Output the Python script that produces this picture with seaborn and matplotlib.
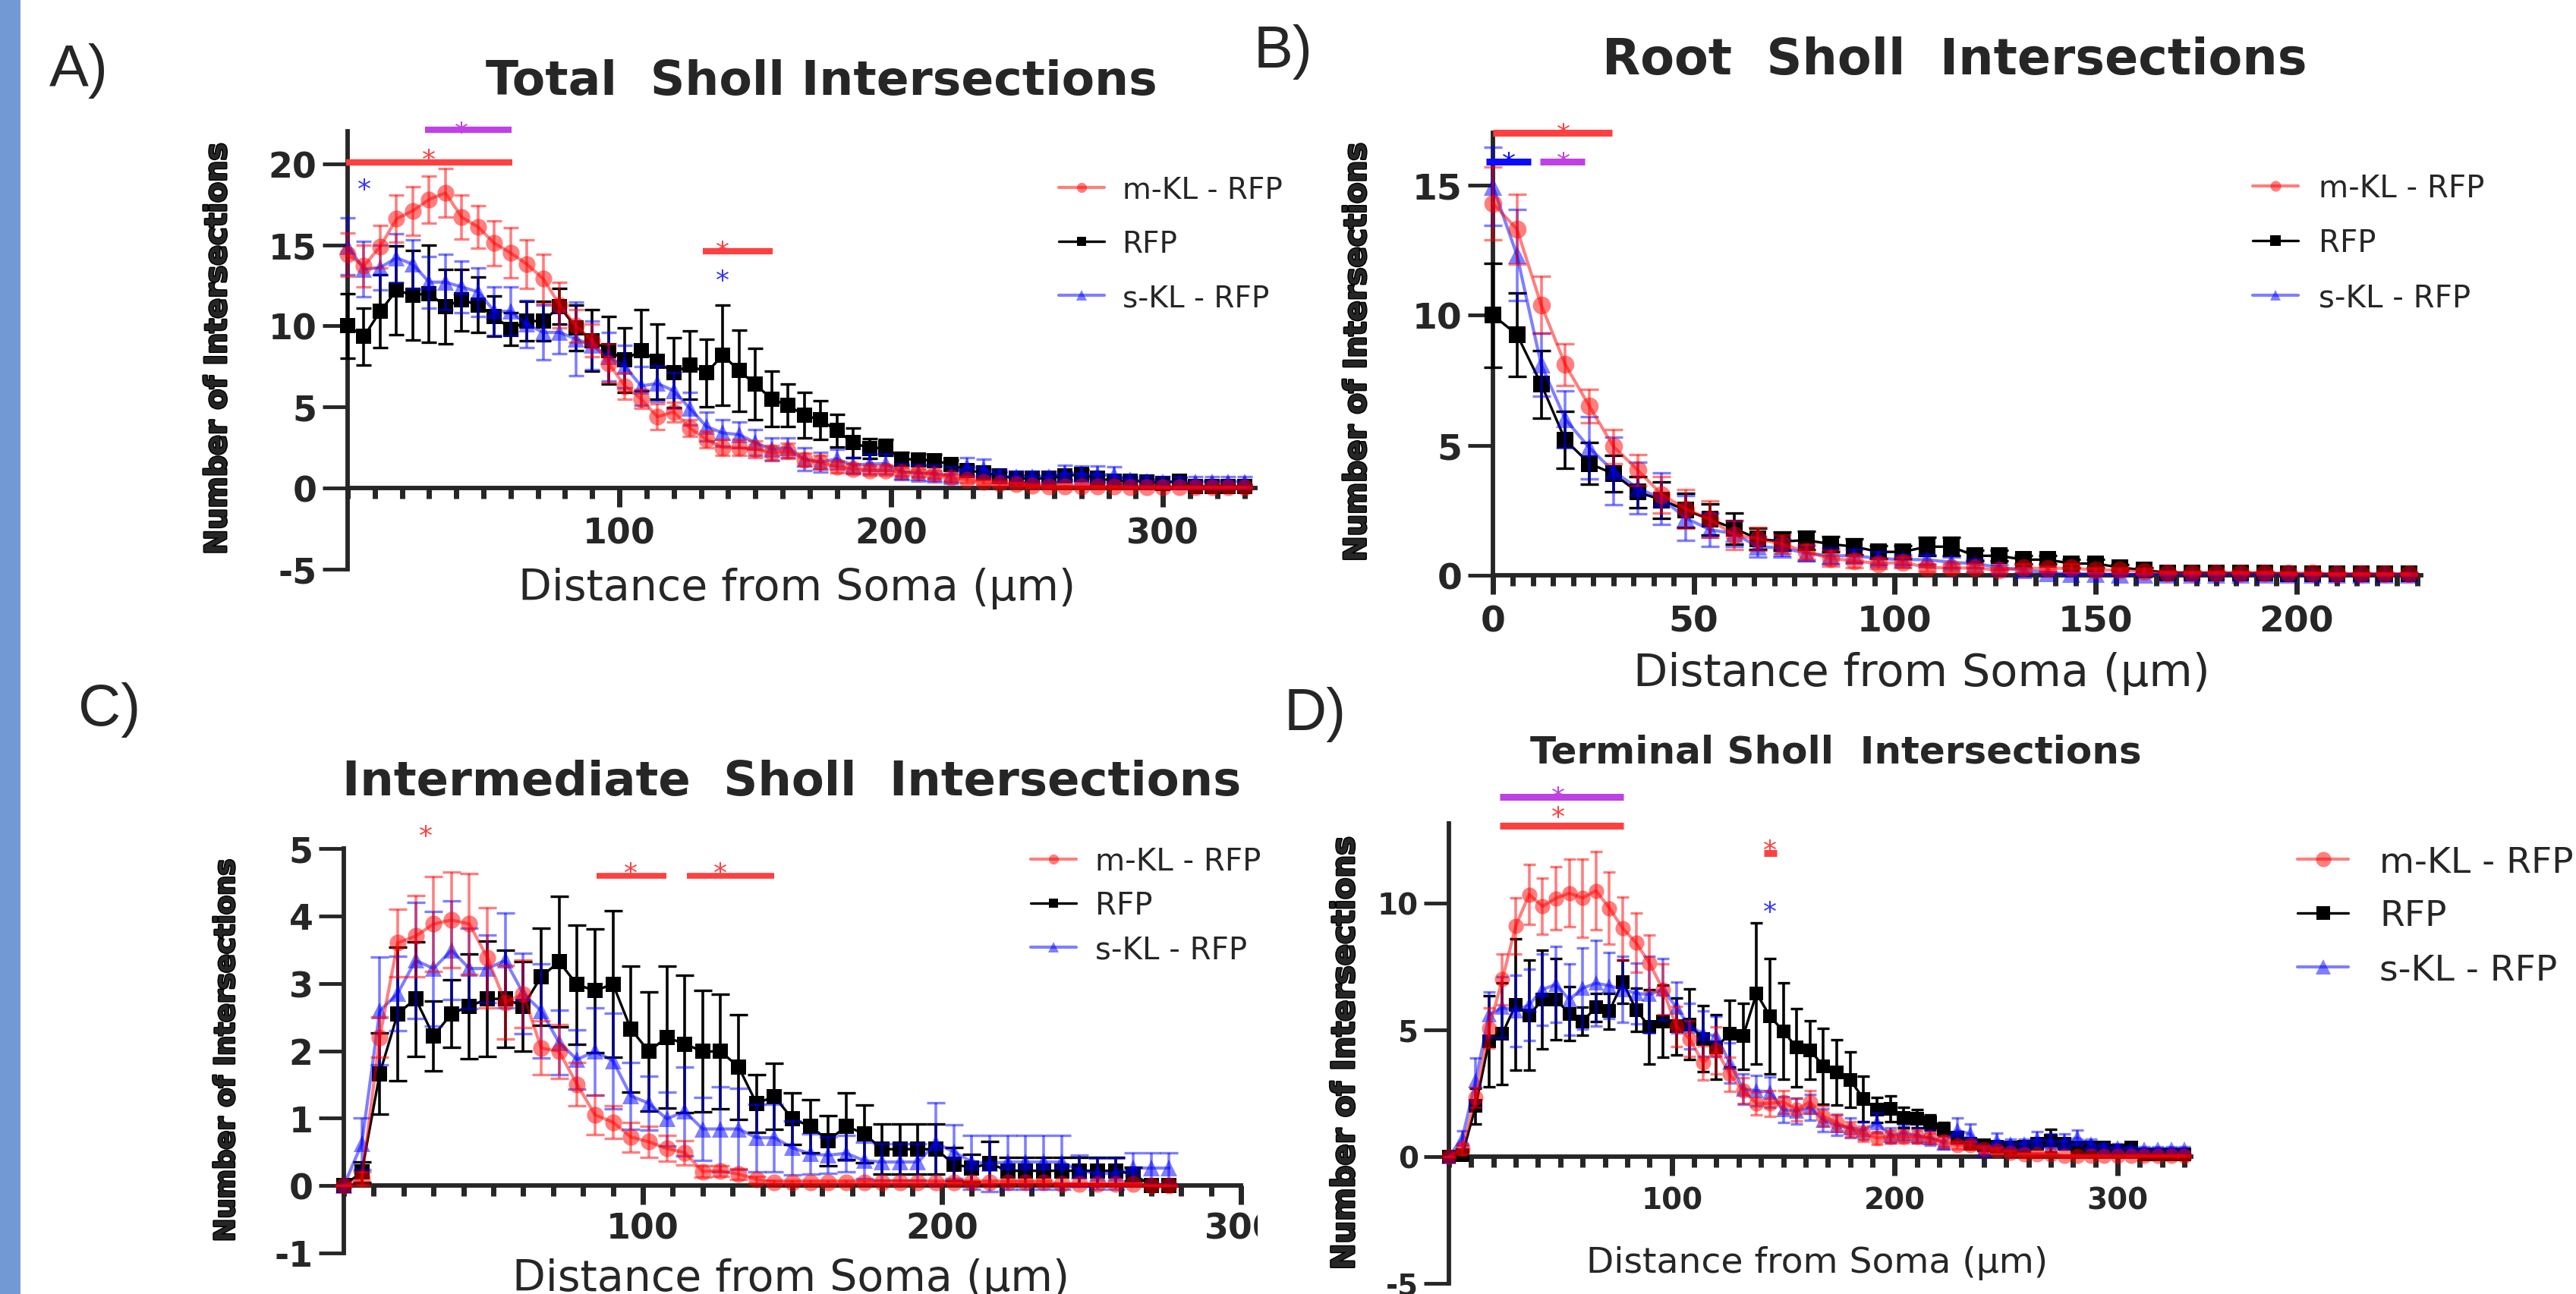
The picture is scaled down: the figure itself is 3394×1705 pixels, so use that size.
import matplotlib
matplotlib.use("Agg")
import matplotlib.pyplot as plt
import matplotlib.transforms as mtransforms
import matplotlib.patheffects as pe
from matplotlib.patches import Rectangle
from matplotlib.ticker import MultipleLocator
import numpy as np
import seaborn as sns

W, H = 3394, 1706

# Sholl radii (6 um steps)
dist_a = np.arange(0, 331, 6)
dist_b = np.arange(0, 229, 6)
dist_c = np.arange(0, 277, 6)
dist_d = np.arange(0, 331, 6)

LABELS = ["m-KL - RFP", "RFP", "s-KL - RFP"]

# ---- A) Total Sholl intersections (mean, SEM) ----
mkl_a = [14.4, 13.7, 14.9, 16.6, 17.1, 17.8, 18.2, 16.7, 16.1, 15.1,
         14.5, 13.8, 12.9, 11.3, 10.0, 9.1, 7.7, 6.3, 5.5, 4.4,
         4.7, 3.7, 3.0, 2.5, 2.5, 2.4, 2.2, 2.3, 1.75, 1.6,
         1.3, 1.2, 1.1, 1.1, 1.0, 0.95, 0.85, 0.65, 0.52, 0.37,
         0.3, 0.25, 0.15, 0.1, 0.1, 0.1, 0.08, 0.08, 0.06, 0.06,
         0.05, 0.05, 0.05, 0.05, 0.05, 0.05]
mkl_a_sem = [1.35, 1.3, 1.3, 1.45, 1.5, 1.45, 1.5, 1.35, 1.3, 1.4,
             1.55, 1.5, 1.5, 1.4, 1.0, 1.0, 1.2, 0.8, 0.6, 0.8,
             0.6, 0.5, 0.5, 0.5, 0.5, 0.5, 0.45, 0.45, 0.4, 0.4,
             0.35, 0.3, 0.3, 0.3, 0.25, 0.25, 0.25, 0.2, 0.2, 0.15,
             0.15, 0.1, 0.1, 0.1, 0.1, 0.1, 0.08, 0.08, 0.06, 0.06,
             0.05, 0.05, 0.05, 0.05, 0.05, 0.05]
rfp_a = [10.0, 9.35, 10.9, 12.2, 11.9, 12.0, 11.2, 11.6, 11.3, 10.6,
         9.8, 10.3, 10.3, 11.2, 9.9, 9.1, 8.5, 7.9, 8.5, 7.8,
         7.1, 7.6, 7.1, 8.2, 7.25, 6.4, 5.5, 5.1, 4.5, 4.2,
         3.55, 2.8, 2.45, 2.5, 1.8, 1.75, 1.7, 1.45, 1.1, 0.95,
         0.75, 0.6, 0.6, 0.6, 0.75, 0.85, 0.6, 0.45, 0.45, 0.4,
         0.3, 0.45, 0.1, 0.1, 0.1, 0.1]
rfp_a_sem = [2.0, 1.75, 2.25, 2.75, 2.75, 3.0, 2.3, 1.9, 1.7, 1.25,
             1.0, 1.2, 1.2, 1.1, 1.4, 1.9, 2.1, 2.0, 2.5, 2.3,
             2.15, 2.1, 2.1, 3.1, 2.5, 2.2, 1.7, 1.3, 1.4, 1.2,
             1.0, 0.9, 0.6, 0.5, 0.4, 0.35, 0.35, 0.3, 0.3, 0.25,
             0.25, 0.2, 0.2, 0.2, 0.25, 0.3, 0.2, 0.2, 0.2, 0.15,
             0.15, 0.2, 0.1, 0.1, 0.1, 0.1]
skl_a = [14.9, 13.5, 13.6, 14.2, 13.8, 12.7, 12.7, 12.4, 12.1, 10.9,
         10.9, 10.1, 9.6, 9.6, 9.2, 8.8, 8.1, 7.5, 6.3, 6.45,
         6.0, 4.9, 3.8, 3.4, 3.3, 2.8, 2.4, 2.5, 1.8, 1.6,
         1.8, 1.4, 1.5, 1.5, 1.0, 0.95, 0.9, 0.8, 1.3, 1.2,
         0.75, 0.7, 0.7, 0.7, 0.9, 0.85, 0.85, 0.8, 0.5, 0.45,
         0.4, 0.4, 0.4, 0.4, 0.4, 0.4]
skl_a_sem = [1.75, 1.7, 1.4, 1.5, 1.5, 1.6, 1.7, 1.6, 1.5, 1.5,
             1.5, 1.45, 1.7, 1.3, 2.25, 1.5, 1.5, 1.3, 1.2, 1.1,
             1.1, 1.0, 0.9, 0.8, 0.8, 0.8, 0.7, 0.6, 0.7, 0.6,
             0.6, 0.5, 0.6, 0.6, 0.5, 0.5, 0.5, 0.5, 0.6, 0.6,
             0.4, 0.35, 0.35, 0.35, 0.5, 0.5, 0.5, 0.5, 0.3, 0.3,
             0.3, 0.3, 0.3, 0.3, 0.3, 0.3]

# ---- B) Root Sholl intersections ----
mkl_b = [14.3, 13.3, 10.4, 8.1, 6.5, 4.95, 4.05, 3.1, 2.55, 2.15,
         1.55, 1.4, 1.2, 0.9, 0.65, 0.55, 0.45, 0.5, 0.3, 0.28,
         0.28, 0.2, 0.28, 0.25, 0.28, 0.2, 0.2, 0.15, 0.1, 0.1,
         0.1, 0.1, 0.1, 0.08, 0.08, 0.05, 0.05, 0.05, 0.05]
mkl_b_sem = [1.4, 1.35, 1.1, 0.8, 0.65, 0.65, 0.6, 0.7, 0.75, 0.7,
             0.55, 0.45, 0.35, 0.3, 0.3, 0.25, 0.2, 0.2, 0.15, 0.15,
             0.15, 0.1, 0.15, 0.1, 0.15, 0.1, 0.1, 0.1, 0.05, 0.05,
             0.05, 0.05, 0.05, 0.05, 0.05, 0.05, 0.05, 0.05, 0.05]
rfp_b = [10.0, 9.25, 7.35, 5.2, 4.3, 3.9, 3.2, 2.9, 2.5, 2.15,
         1.8, 1.4, 1.3, 1.35, 1.2, 1.1, 0.9, 0.9, 1.1, 1.1,
         0.75, 0.75, 0.6, 0.6, 0.45, 0.45, 0.3, 0.2, 0.1, 0.1,
         0.08, 0.08, 0.08, 0.05, 0.05, 0.05, 0.05, 0.05, 0.05]
rfp_b_sem = [2.0, 1.6, 1.3, 1.1, 0.8, 0.7, 0.6, 0.7, 0.65, 0.6,
             0.6, 0.4, 0.35, 0.35, 0.3, 0.3, 0.25, 0.25, 0.35, 0.35,
             0.2, 0.2, 0.15, 0.15, 0.15, 0.15, 0.1, 0.1, 0.05, 0.05,
             0.05, 0.05, 0.05, 0.05, 0.05, 0.05, 0.05, 0.05, 0.05]
skl_b = [14.95, 12.3, 8.1, 6.0, 4.9, 4.0, 3.35, 2.95, 2.2, 1.75,
         1.6, 1.1, 1.05, 0.85, 0.75, 0.75, 0.65, 0.6, 0.6, 0.5,
         0.45, 0.3, 0.2, 0.1, 0.05, 0.05, 0.03, 0.03, 0.03, 0.03,
         0.03, 0.03, 0.03, 0.03, 0.03, 0.03, 0.03, 0.03, 0.03]
skl_b_sem = [1.5, 1.75, 1.2, 1.1, 1.2, 1.3, 1.0, 1.0, 0.85, 0.65,
             0.5, 0.4, 0.35, 0.3, 0.3, 0.25, 0.25, 0.2, 0.2, 0.2,
             0.15, 0.1, 0.1, 0.05, 0.03, 0.03, 0.03, 0.03, 0.03, 0.03,
             0.03, 0.03, 0.03, 0.03, 0.03, 0.03, 0.03, 0.03, 0.03]

# ---- C) Intermediate Sholl intersections ----
mkl_c = [0.0, 0.1, 2.2, 3.6, 3.7, 3.88, 3.94, 3.88, 3.38, 2.72,
         2.84, 2.04, 1.99, 1.5, 1.05, 0.94, 0.72, 0.65, 0.55, 0.49,
         0.21, 0.22, 0.17, 0.09, 0.05, 0.05, 0.05, 0.05, 0.05, 0.05,
         0.05, 0.05, 0.05, 0.05, 0.05, 0.05, 0.05, 0.05, 0.05, 0.05,
         0.02, 0.02, 0.02, 0.02, 0.02, 0.0, 0.0]
mkl_c_sem = [0.0, 0.1, 0.3, 0.5, 0.6, 0.7, 0.71, 0.75, 0.74, 0.55,
             0.5, 0.4, 0.4, 0.32, 0.29, 0.24, 0.22, 0.23, 0.19, 0.18,
             0.08, 0.08, 0.08, 0.05, 0.03, 0.03, 0.03, 0.03, 0.03, 0.03,
             0.03, 0.03, 0.03, 0.03, 0.03, 0.03, 0.03, 0.03, 0.03, 0.03,
             0.02, 0.02, 0.02, 0.02, 0.02, 0.0, 0.0]
rfp_c = [0.0, 0.2, 1.66, 2.55, 2.77, 2.22, 2.55, 2.66, 2.77, 2.77,
         2.66, 3.1, 3.32, 2.98, 2.89, 2.99, 2.32, 1.99, 2.2, 2.1,
         1.99, 1.99, 1.76, 1.22, 1.32, 0.99, 0.88, 0.67, 0.88, 0.77,
         0.54, 0.54, 0.54, 0.54, 0.32, 0.26, 0.33, 0.22, 0.22, 0.22,
         0.22, 0.22, 0.22, 0.22, 0.17, 0.0, 0.0]
rfp_c_sem = [0.0, 0.15, 0.6, 0.99, 0.85, 0.52, 0.5, 0.78, 0.86, 0.72,
             0.66, 0.72, 0.97, 0.88, 0.92, 1.09, 0.93, 0.88, 1.05, 1.02,
             0.9, 0.85, 0.78, 0.43, 0.49, 0.38, 0.39, 0.37, 0.5, 0.43,
             0.37, 0.37, 0.37, 0.37, 0.25, 0.2, 0.32, 0.2, 0.2, 0.2,
             0.2, 0.2, 0.2, 0.2, 0.1, 0.0, 0.0]
skl_c = [0.0, 0.62, 2.59, 2.85, 3.34, 3.22, 3.49, 3.22, 3.22, 3.34,
         2.85, 2.59, 2.12, 1.87, 1.99, 1.85, 1.33, 1.22, 0.99, 1.1,
         0.84, 0.84, 0.84, 0.71, 0.71, 0.56, 0.47, 0.45, 0.48, 0.37,
         0.35, 0.35, 0.35, 0.63, 0.5, 0.35, 0.33, 0.35, 0.35, 0.35,
         0.35, 0.22, 0.18, 0.18, 0.26, 0.26, 0.26]
skl_c_sem = [0.0, 0.38, 0.8, 0.55, 0.86, 0.85, 0.73, 0.6, 0.5, 0.7,
             0.6, 0.7, 0.48, 0.44, 0.65, 0.71, 0.5, 0.4, 0.4, 0.66,
             0.47, 0.63, 0.6, 0.5, 0.5, 0.4, 0.3, 0.27, 0.27, 0.27,
             0.27, 0.27, 0.27, 0.6, 0.4, 0.4, 0.42, 0.4, 0.4, 0.4,
             0.4, 0.23, 0.23, 0.23, 0.23, 0.23, 0.23]

# ---- D) Terminal Sholl intersections ----
mkl_d = [0.0, 0.3, 2.33, 5.07, 7.0, 9.1, 10.34, 9.87, 10.19, 10.39,
         10.2, 10.49, 9.8, 9.0, 8.43, 7.63, 6.59, 5.14, 4.65, 3.7,
         4.2, 3.25, 2.6, 2.1, 2.1, 2.16, 1.86, 2.16, 1.59, 1.34,
         1.09, 0.89, 0.74, 0.79, 0.79, 0.79, 0.74, 0.6, 0.45, 0.45,
         0.3, 0.25, 0.15, 0.1, 0.1, 0.1, 0.03, 0.03, 0.03, 0.03,
         0.03, 0.03, 0.03, 0.03, 0.03, 0.03]
mkl_d_sem = [0.0, 0.2, 0.4, 0.8, 1.0, 1.1, 1.17, 1.1, 1.25, 1.33,
             1.54, 1.53, 1.43, 1.25, 1.17, 1.1, 1.0, 0.8, 0.7, 0.67,
             0.93, 0.67, 0.5, 0.45, 0.5, 0.45, 0.45, 0.45, 0.4, 0.35,
             0.3, 0.3, 0.25, 0.25, 0.25, 0.25, 0.2, 0.2, 0.15, 0.15,
             0.12, 0.1, 0.08, 0.06, 0.06, 0.06, 0.03, 0.03, 0.03, 0.03,
             0.03, 0.03, 0.03, 0.03, 0.03, 0.03]
rfp_d = [0.0, 0.07, 1.99, 4.55, 4.85, 6.0, 5.57, 6.2, 6.2, 5.64,
         5.34, 5.89, 5.74, 6.89, 5.79, 5.11, 5.34, 5.14, 5.21, 4.65,
         4.32, 4.85, 4.75, 6.44, 5.54, 4.95, 4.3, 4.2, 3.57, 3.32,
         3.03, 2.28, 1.84, 1.88, 1.54, 1.49, 1.34, 1.09, 0.74, 0.5,
         0.45, 0.4, 0.35, 0.4, 0.5, 0.64, 0.5, 0.35, 0.35, 0.35,
         0.25, 0.35, 0.1, 0.1, 0.1, 0.1]
rfp_d_sem = [0.0, 0.1, 0.7, 1.8, 2.0, 2.6, 2.17, 1.94, 1.6, 1.07,
             0.55, 0.55, 0.7, 0.85, 0.84, 1.47, 1.43, 1.13, 1.39, 1.3,
             1.27, 1.33, 1.3, 2.79, 2.27, 1.9, 1.54, 1.15, 1.5, 1.3,
             1.1, 0.9, 0.5, 0.5, 0.4, 0.35, 0.3, 0.25, 0.2, 0.2,
             0.2, 0.2, 0.2, 0.2, 0.2, 0.45, 0.2, 0.1, 0.1, 0.1,
             0.1, 0.1, 0.1, 0.1, 0.1, 0.1]
skl_d = [0.0, 0.72, 3.0, 5.59, 5.89, 5.74, 5.99, 6.59, 6.79, 6.19,
         6.64, 6.84, 6.74, 6.59, 6.44, 6.39, 6.6, 5.89, 5.14, 4.85,
         4.75, 3.7, 2.66, 2.6, 2.55, 1.85, 1.8, 1.95, 1.44, 1.24,
         1.14, 1.04, 1.34, 0.84, 0.94, 0.84, 0.74, 0.55, 1.04, 0.89,
         0.25, 0.64, 0.5, 0.5, 0.69, 0.6, 0.6, 0.74, 0.5, 0.35,
         0.35, 0.3, 0.3, 0.3, 0.3, 0.3]
skl_d_sem = [0.0, 0.3, 0.9, 0.9, 1.2, 1.4, 1.4, 1.4, 1.5, 1.4,
             1.6, 1.7, 1.3, 1.3, 1.2, 1.5, 1.2, 1.0, 0.9, 0.9,
             0.8, 0.8, 0.6, 0.6, 0.6, 0.5, 0.5, 0.5, 0.45, 0.4,
             0.4, 0.35, 0.4, 0.3, 0.3, 0.3, 0.3, 0.25, 0.5, 0.4,
             0.15, 0.3, 0.2, 0.2, 0.3, 0.3, 0.3, 0.3, 0.2, 0.15,
             0.15, 0.1, 0.1, 0.1, 0.1, 0.1]

# significance marks: (x1, x2, y, colour) bars and (x, y, colour) asterisks
RED_S, PUR_S, BLU_S, BLU_BAR = "#FF4040", "#BF40E6", "#3535FF", "#0A0AFF"
bars_a = [(-0.6, 60.6, 20.1, RED_S), (28.4, 60.2, 22.1, PUR_S), (130.6, 156.3, 14.6, RED_S)]
stars_a = [(29.8, 20.73, RED_S), (42.0, 22.45, PUR_S), (6.0, 18.9, BLU_S),
           (138.0, 15.1, RED_S), (138.0, 13.3, BLU_S)]
bars_b = [(0.0, 29.7, 17.0, RED_S), (-1.7, 9.5, 15.9, BLU_BAR), (11.8, 22.9, 15.9, PUR_S)]
stars_b = [(17.5, 17.28, RED_S), (4.0, 16.17, BLU_BAR), (17.5, 16.17, PUR_S)]
bars_c = [(84.6, 107.9, 4.6, RED_S), (114.6, 143.9, 4.6, RED_S)]
stars_c = [(27.3, 5.31, RED_S), (95.9, 4.75, RED_S), (125.9, 4.75, RED_S)]
bars_d = [(22.8, 78.4, 14.2, PUR_S), (22.8, 78.4, 13.06, RED_S), (141.3, 147.2, 11.97, RED_S)]
stars_d = [(48.9, 14.5, PUR_S), (48.9, 13.7, RED_S), (144.0, 12.4, RED_S), (144.0, 9.97, BLU_S)]

sns.set_style("ticks")
plt.rcParams["font.family"] = ["DejaVu Sans"]
plt.rcParams["axes.unicode_minus"] = False

fig = plt.figure(figsize=(W / 100, H / 100), dpi=100)
fig.add_artist(Rectangle((0, 0), 27 / W, 1, transform=fig.transFigure,
                         facecolor="#7399D4", edgecolor="none"))

HEAVY = [pe.withStroke(linewidth=2.2, foreground="black")]


def add_axes(left, top, right, bottom):
    return fig.add_axes([left / W, 1 - bottom / H, (right - left) / W, (bottom - top) / H])


def draw_series(ax, dist, vals, sem, color, marker, alpha, lw, ms, cap, z):
    sns.lineplot(x=dist, y=vals, ax=ax, color=color, marker=marker, markersize=ms,
                 markeredgewidth=0, linewidth=lw, alpha=alpha, errorbar=None,
                 clip_on=False, zorder=z, legend=False)
    handle = ax.lines[-1]
    ax.errorbar(dist, vals, yerr=sem, fmt="none", ecolor=color, alpha=alpha,
                elinewidth=2.6, capsize=cap, capthick=2.4, clip_on=False, zorder=z - 0.1)
    return handle


def draw_panel(ax, dist, rfp, rfp_sem, skl, skl_sem, mkl, mkl_sem, ms, cap):
    h_rfp = draw_series(ax, dist, rfp, rfp_sem, "black", "s", 1.0, 2.4, ms - 1, cap, 3)
    h_skl = draw_series(ax, dist, skl, skl_sem, "#0000FF", "^", 0.5, 3.0, ms, cap, 4)
    h_mkl = draw_series(ax, dist, mkl, mkl_sem, "#FF0000", "o", 0.5, 3.0, ms, cap, 5)
    return [h_mkl, h_rfp, h_skl]


def style_axes(ax, xlim, ylim, xticks, yticks, minor, fs, xpad):
    ax.set_xlim(*xlim)
    ax.set_ylim(*ylim)
    ax.spines["top"].set_visible(False)
    ax.spines["right"].set_visible(False)
    ax.spines["bottom"].set_position(("data", 0))
    for s in ("left", "bottom"):
        ax.spines[s].set_linewidth(4.2)
        ax.spines[s].set_zorder(2)
    ax.set_xticks(xticks)
    ax.set_yticks(yticks)
    ax.xaxis.set_minor_locator(MultipleLocator(minor))
    ax.tick_params(axis="x", which="major", length=18, width=5, pad=xpad, labelsize=fs)
    ax.tick_params(axis="x", which="minor", length=10, width=5)
    ax.tick_params(axis="y", which="major", length=24, width=3.5, pad=5, labelsize=fs)
    plt.setp(ax.get_xticklabels() + ax.get_yticklabels(), fontweight="bold")


def label_axes(ax, xl_pos, yl_pos, xl_fs, yl_fs):
    ax.set_xlabel("Distance from Soma (\u03bcm)", fontsize=xl_fs)
    ax.set_ylabel("Number of Intersections", fontsize=yl_fs, fontweight="bold")
    ax.yaxis.label.set_path_effects(HEAVY)
    ax.xaxis.set_label_coords(*xl_pos)
    ax.xaxis.label.set_va("center")
    ax.yaxis.set_label_coords(*yl_pos)
    ax.yaxis.label.set_va("center")


def sig_marks(ax, bars, stars, lw=6, size=26):
    for x1, x2, y, c in bars:
        ax.plot([x1, x2], [y, y], color=c, lw=lw, solid_capstyle="butt",
                clip_on=False, zorder=8)
    for x, y, c in stars:
        tr = mtransforms.offset_copy(ax.transData, fig=fig, y=-0.585 * size, units="points")
        ax.text(x, y, "*", transform=tr, ha="center", va="baseline", fontsize=size,
                color=c, zorder=9, clip_on=False)


def add_legend(ax, handles, x_left, y_mid, fs, hl, pad, spacing, mscale):
    ax.legend(handles=handles, labels=LABELS, loc="center left",
              bbox_to_anchor=(x_left / W, 1 - y_mid / H), bbox_transform=fig.transFigure,
              frameon=False, fontsize=fs, handlelength=hl, handletextpad=pad,
              labelspacing=spacing, borderpad=0, borderaxespad=0, markerscale=mscale)


def fig_text(x, y, s, **kw):
    fig.text(x / W, 1 - y / H, s, **kw)


# ---- panel A ----
ax_a = add_axes(458, 174, 1654, 751)
hs = draw_panel(ax_a, dist_a, rfp_a, rfp_a_sem, skl_a, skl_a_sem, mkl_a, mkl_a_sem, 16, 7.5)
style_axes(ax_a, (0, 334), (-5, 22), [100, 200, 300], [-5, 0, 5, 10, 15, 20], 10, 33, 9)
label_axes(ax_a, (0.495, -0.042), (-0.143, 0.504), 41, 28.5)
sig_marks(ax_a, bars_a, stars_a)
add_legend(ax_a, hs, 1395, 322, 28, 1.55, 0.6, 0.85, 0.6)

# ---- panel B ----
ax_b = add_axes(1967, 176, 3190, 759)
hs = draw_panel(ax_b, dist_b, rfp_b, rfp_b_sem, skl_b, skl_b_sem, mkl_b, mkl_b_sem, 17, 8.3)
style_axes(ax_b, (0, 231), (0, 17.01), [0, 50, 100, 150, 200], [0, 5, 10, 15], 5, 34, 10)
label_axes(ax_b, (0.462, -0.221), (-0.146, 0.504), 42.5, 29)
sig_marks(ax_b, bars_b, stars_b, lw=6.5)
add_legend(ax_b, hs, 2968, 321, 29, 1.5, 0.65, 0.8, 0.6)

# ---- panel C ----
ax_c = add_axes(453, 1119, 1635, 1652)
hs = draw_panel(ax_c, dist_c, rfp_c, rfp_c_sem, skl_c, skl_c_sem, mkl_c, mkl_c_sem, 16, 8.3)
style_axes(ax_c, (0, 300), (-1, 5), [100, 200, 300], [-1, 0, 1, 2, 3, 4, 5], 10, 33, 7)
label_axes(ax_c, (0.498, -0.062), (-0.131, 0.501), 41, 26.5)
sig_marks(ax_c, bars_c, stars_c, lw=5.5)
add_legend(ax_c, hs, 1358, 1194, 29, 1.5, 0.62, 0.45, 0.6)

# ---- panel D ----
ax_d = add_axes(1909, 1086, 2887, 1692)
hs = draw_panel(ax_d, dist_d, rfp_d, rfp_d_sem, skl_d, skl_d_sem, mkl_d, mkl_d_sem, 14.5, 6)
style_axes(ax_d, (0, 333), (-5, 13.14), [100, 200, 300], [-5, 0, 5, 10], 10, 28, 10)
label_axes(ax_d, (0.496, 0.045), (-0.14, 0.5), 34, 30)
sig_marks(ax_d, bars_d, stars_d, lw=6.5)
add_legend(ax_d, hs, 3027, 1208, 34, 1.42, 0.87, 0.55, 1.0)

# titles
fig_text(1082, 125, "Total  Sholl Intersections", ha="center", va="baseline",
         fontsize=45.5, fontweight="bold")
fig_text(2575, 98, "Root  Sholl  Intersections", ha="center", va="baseline",
         fontsize=47, fontweight="bold")
fig_text(1043, 1048, "Intermediate  Sholl  Intersections", ha="center", va="baseline",
         fontsize=45, fontweight="bold")
fig_text(2419, 1006, "Terminal Sholl  Intersections", ha="center", va="baseline",
         fontsize=36, fontweight="bold")

# panel letters
letter_font = ["Liberation Sans Narrow", "Liberation Sans", "DejaVu Sans"]
for x, y, s in [(65, 114, "A)"), (1652, 89, "B)"), (103, 956, "C)"), (1692, 962, "D)")]:
    fig_text(x, y, s, ha="left", va="baseline", fontsize=56, family=letter_font)

# the "300" tick label of panel C is cut off in the original composite
fig.add_artist(Rectangle((1657 / W, 1 - 1650 / H), 45 / W, 65 / H, transform=fig.transFigure,
                         facecolor="white", edgecolor="none", zorder=10))

fig.savefig("out.png", dpi=100)
